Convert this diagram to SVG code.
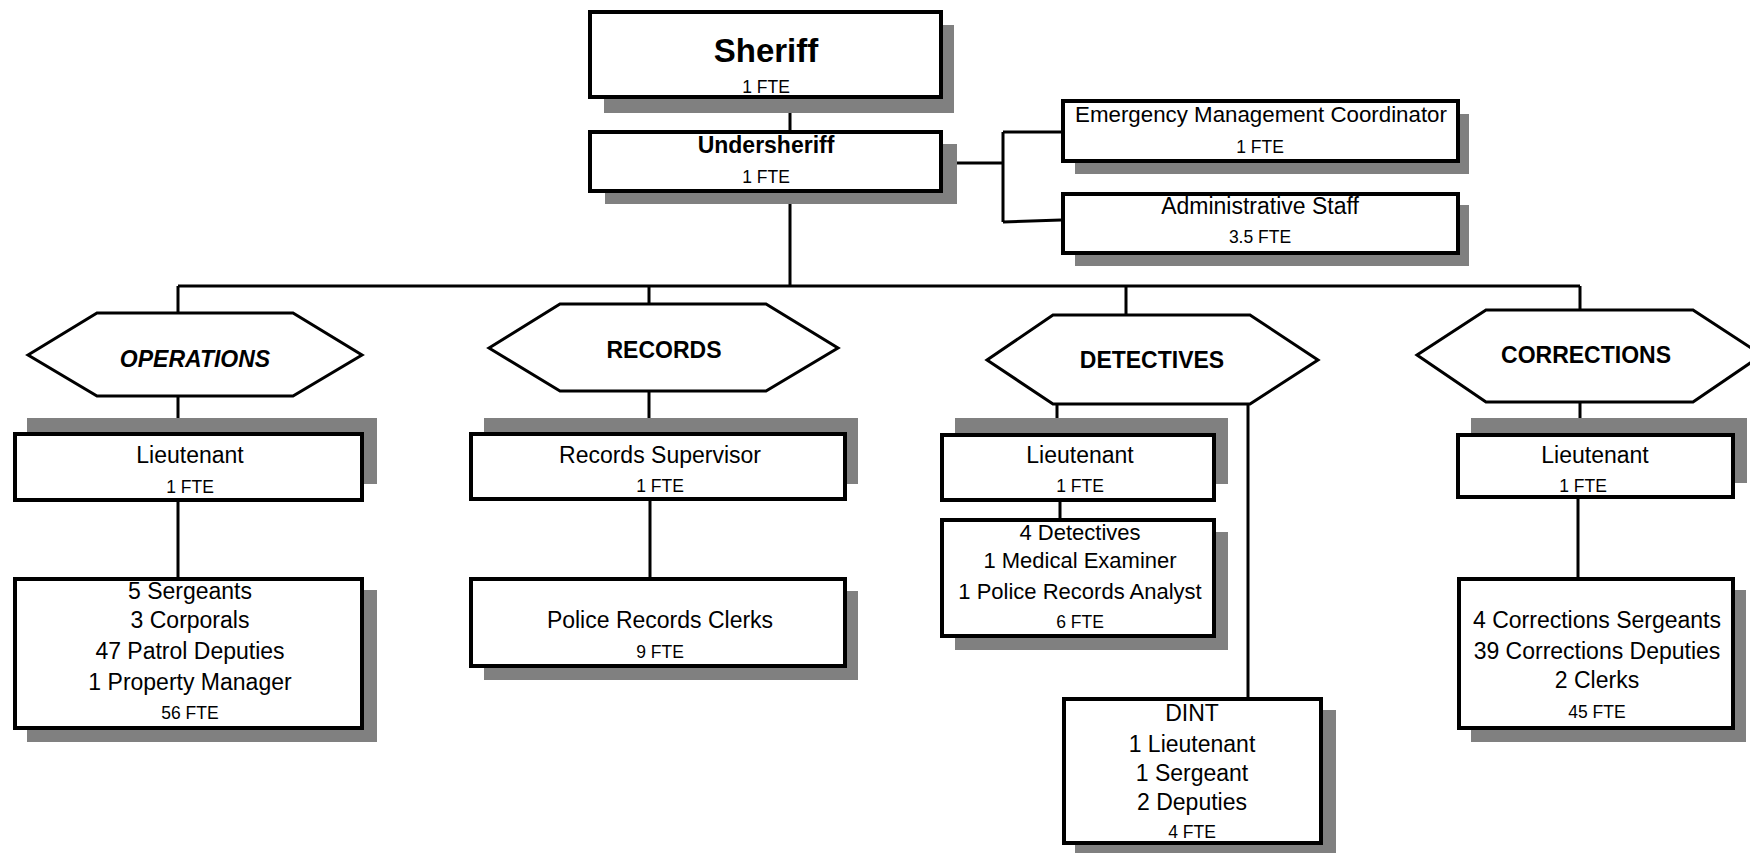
<svg xmlns="http://www.w3.org/2000/svg" width="1750" height="854" viewBox="0 0 1750 854">
<style>
.sh{fill:#808080;stroke:none}
.bx{fill:#fff;stroke:#000;stroke-width:4}
.hx{fill:#fff;stroke:#000;stroke-width:3}
.ln{fill:none;stroke:#000;stroke-width:3}
text{font-family:"Liberation Sans",Arial,sans-serif;fill:#000;text-anchor:middle}
.t{font-size:23px}
.f{font-size:17.5px}
.b{font-size:23px;font-weight:bold}
.bi{font-size:23px;font-weight:bold;font-style:italic}
</style>
<rect width="1750" height="854" fill="#fff"/>
<g id="connectors">
<path class="ln" d="M790,99V130M790,204V286M178,286H1580M178,286V313M178,396V418M178,502V577M649,286V304M649,391V418M650,501V577M1126,286V315M1057,404V418M1060,502V518M1248,404V697M1580,286V310M1580,402V418M1578,499V577M957,163H1003M1003,132V222M1003,132H1061M1003,222L1061,220"/>
</g>
<g id="sheriff">
<rect class="sh" x="604" y="25" width="350" height="88"/>
<rect class="bx" x="590" y="12" width="351" height="85"/>
<text x="766" y="62" style="font-size:33px;font-weight:bold">Sheriff</text>
<text class="f" x="766" y="93">1 FTE</text>
</g>
<g id="undersheriff">
<rect class="sh" x="605" y="144" width="352" height="60"/>
<rect class="bx" x="590" y="132" width="351" height="59"/>
<text class="b" x="766" y="153">Undersheriff</text>
<text class="f" x="766" y="183">1 FTE</text>
</g>
<g id="emc">
<rect class="sh" x="1075" y="114" width="394" height="60"/>
<rect class="bx" x="1063" y="101" width="395" height="60"/>
<text x="1261" y="122" style="font-size:22.3px">Emergency Management Coordinator</text>
<text class="f" x="1260" y="153">1 FTE</text>
</g>
<g id="admin">
<rect class="sh" x="1075" y="205" width="394" height="61"/>
<rect class="bx" x="1063" y="194" width="395" height="59"/>
<text class="t" x="1260" y="214">Administrative Staff</text>
<text class="f" x="1260" y="243">3.5 FTE</text>
</g>
<g id="operations">
<polygon class="hx" points="28,355 97,313 293,313 362,355 293,396 97,396"/>
<text class="bi" x="195" y="367">OPERATIONS</text>
</g>
<g id="ops-lieutenant">
<rect class="sh" x="27" y="418" width="350" height="66"/>
<rect class="bx" x="15" y="434" width="347" height="66"/>
<text class="t" x="190" y="463">Lieutenant</text>
<text class="f" x="190" y="493">1 FTE</text>
</g>
<g id="ops-staff">
<rect class="sh" x="27" y="590" width="350" height="152"/>
<rect class="bx" x="15" y="579" width="347" height="149"/>
<text class="t" x="190" y="599">5 Sergeants</text>
<text class="t" x="190" y="628">3 Corporals</text>
<text class="t" x="190" y="659">47 Patrol Deputies</text>
<text class="t" x="190" y="690">1 Property Manager</text>
<text class="f" x="190" y="719">56 FTE</text>
</g>
<g id="records">
<polygon class="hx" points="489,348 560,304 766,304 838,348 766,391 560,391"/>
<text class="b" x="664" y="358">RECORDS</text>
</g>
<g id="records-supervisor">
<rect class="sh" x="484" y="418" width="374" height="66"/>
<rect class="bx" x="471" y="434" width="374" height="65"/>
<text class="t" x="660" y="463">Records Supervisor</text>
<text class="f" x="660" y="492">1 FTE</text>
</g>
<g id="records-clerks">
<rect class="sh" x="484" y="591" width="374" height="89"/>
<rect class="bx" x="471" y="579" width="374" height="87"/>
<text class="t" x="660" y="628">Police Records Clerks</text>
<text class="f" x="660" y="658">9 FTE</text>
</g>
<g id="detectives">
<polygon class="hx" points="987,360 1053,315 1250,315 1318,360 1250,404 1053,404"/>
<text class="b" x="1152" y="368">DETECTIVES</text>
</g>
<g id="det-lieutenant">
<rect class="sh" x="955" y="418" width="273" height="66"/>
<rect class="bx" x="942" y="435" width="272" height="65"/>
<text class="t" x="1080" y="463">Lieutenant</text>
<text class="f" x="1080" y="492">1 FTE</text>
</g>
<g id="det-staff">
<rect class="sh" x="955" y="532" width="273" height="118"/>
<rect class="bx" x="942" y="520" width="272" height="116"/>
<text class="t" x="1080" y="540" style="font-size:22px">4 Detectives</text>
<text class="t" x="1080" y="568" style="font-size:22px">1 Medical Examiner</text>
<text class="t" x="1080" y="599" style="font-size:22px">1 Police Records Analyst</text>
<text class="f" x="1080" y="628">6 FTE</text>
</g>
<g id="dint">
<rect class="sh" x="1075" y="710" width="261" height="143"/>
<rect class="bx" x="1064" y="699" width="257" height="144"/>
<text class="t" x="1192" y="721">DINT</text>
<text class="t" x="1192" y="752">1 Lieutenant</text>
<text class="t" x="1192" y="781">1 Sergeant</text>
<text class="t" x="1192" y="810">2 Deputies</text>
<text class="f" x="1192" y="838">4 FTE</text>
</g>
<g id="corrections">
<polygon class="hx" points="1417,355 1486,310 1693,310 1762,355 1693,402 1486,402"/>
<text class="b" x="1586" y="363">CORRECTIONS</text>
</g>
<g id="cor-lieutenant">
<rect class="sh" x="1471" y="418" width="276" height="65"/>
<rect class="bx" x="1458" y="435" width="275" height="62"/>
<text class="t" x="1595" y="463">Lieutenant</text>
<text class="f" x="1583" y="492">1 FTE</text>
</g>
<g id="cor-staff">
<rect class="sh" x="1471" y="590" width="275" height="152"/>
<rect class="bx" x="1459" y="579" width="274" height="149"/>
<text class="t" x="1597" y="628">4 Corrections Sergeants</text>
<text class="t" x="1597" y="659">39 Corrections Deputies</text>
<text class="t" x="1597" y="688">2 Clerks</text>
<text class="f" x="1597" y="718">45 FTE</text>
</g>
</svg>
